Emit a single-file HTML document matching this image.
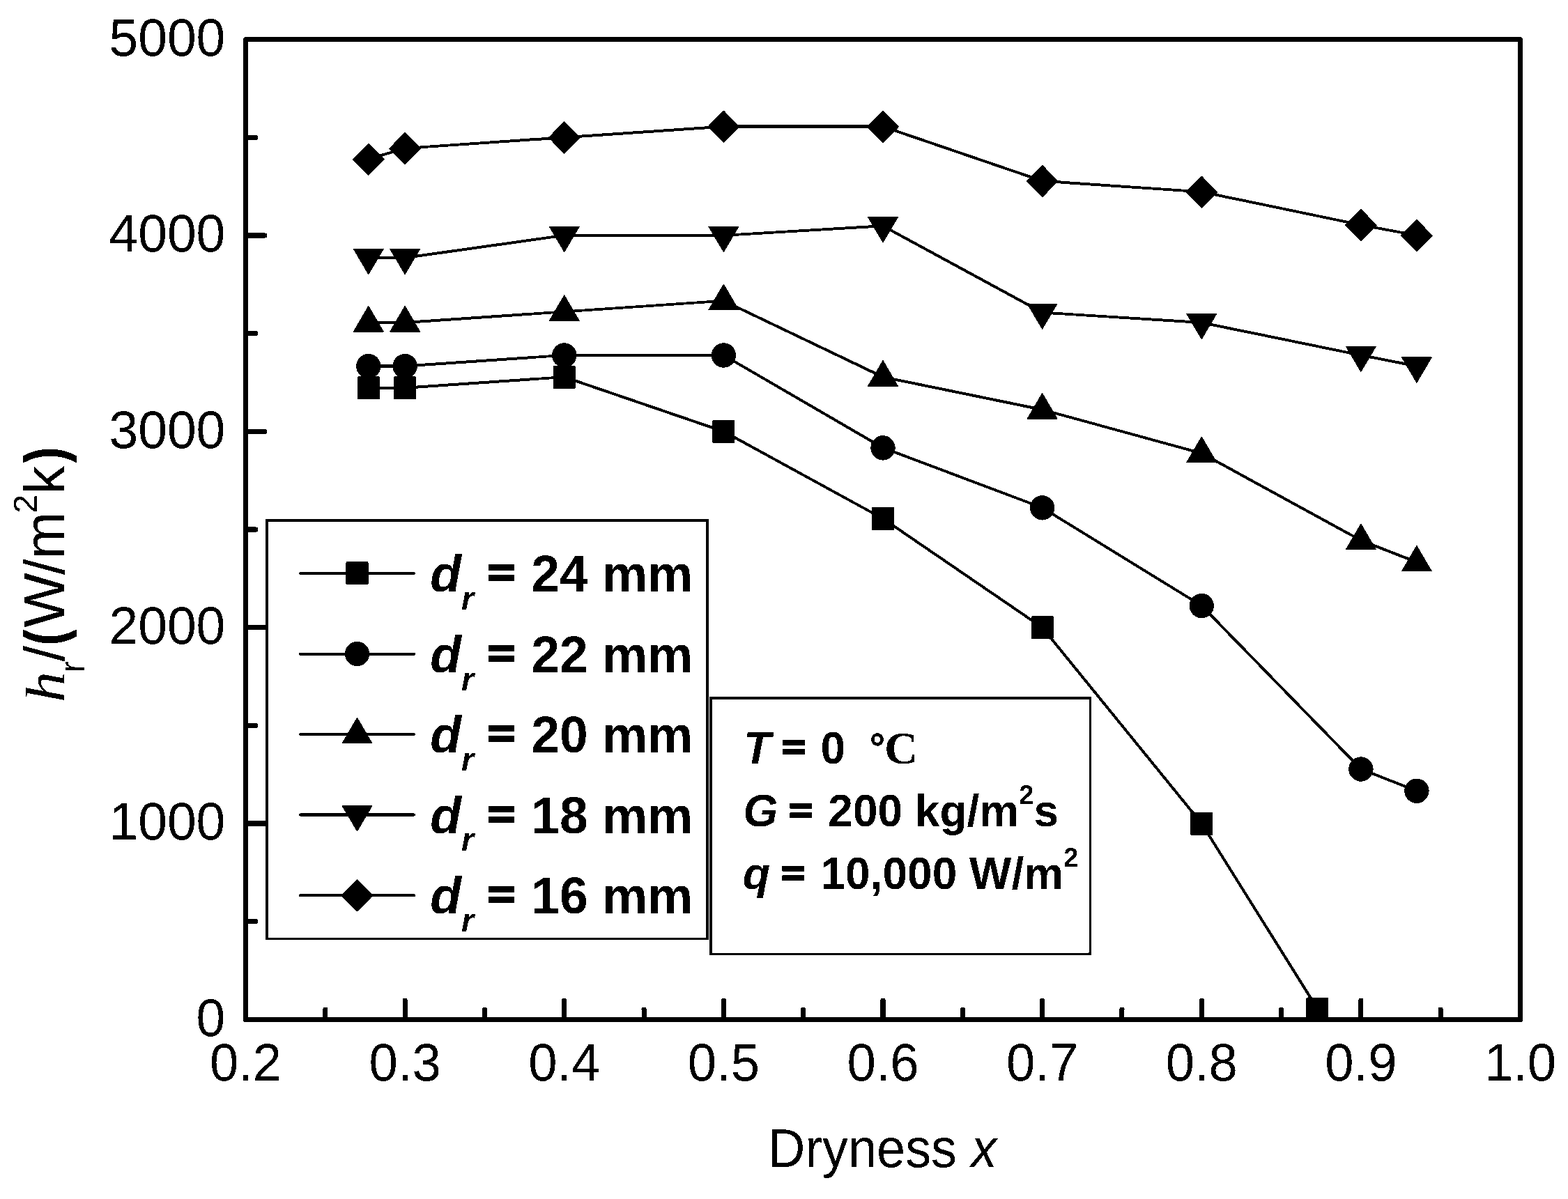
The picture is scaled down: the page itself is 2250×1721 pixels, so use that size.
<!DOCTYPE html>
<html lang="en"><head><meta charset="utf-8"><title>Heat transfer coefficient vs dryness</title>
<style>
html,body{margin:0;padding:0;background:#fff;}
body{width:2250px;height:1721px;}
svg{display:block;}
text{font-family:"Liberation Sans",sans-serif;fill:#000;}
.tk{font-size:75px;}
.lg{font-size:73.2px;font-weight:bold;}
.an{font-size:64px;font-weight:bold;}
.se{font-family:"Liberation Serif",serif;}
.i{font-style:italic;}
.b{font-weight:bold;}
.n{font-weight:normal;font-style:normal;}
</style></head><body>
<svg width="2250" height="1721" viewBox="0 0 2250 1721">
<defs><filter id="bin" filterUnits="userSpaceOnUse" x="0" y="0" width="2250" height="1721" color-interpolation-filters="sRGB"><feComponentTransfer><feFuncR type="discrete" tableValues="0 1"/><feFuncG type="discrete" tableValues="0 1"/><feFuncB type="discrete" tableValues="0 1"/></feComponentTransfer></filter></defs>
<g filter="url(#bin)">
<rect x="0" y="0" width="2250" height="1721" fill="#fff"/>
<g fill="none" stroke="#000" stroke-width="3.9" stroke-linejoin="round">
<polyline points="528.77,556.77 581.12,556.77 809.75,541.13 1038.38,619.30 1267.00,744.37 1495.62,900.70 1724.25,1182.10 1890.46,1447.87"/>
<polyline points="528.77,525.50 581.12,525.50 809.75,509.87 1038.38,509.87 1267.00,642.75 1495.62,728.73 1724.25,869.43 1952.87,1103.93 2032.89,1135.20"/>
<polyline points="528.77,462.97 581.12,462.97 809.75,447.33 1038.38,431.70 1267.00,541.13 1495.62,588.03 1724.25,650.57 1952.87,775.63 2032.89,806.90"/>
<polyline points="528.77,369.95 581.12,369.95 809.75,337.90 1038.38,337.90 1267.00,324.30 1495.62,448.58 1724.25,462.97 1952.87,509.87 2032.89,525.50"/>
<polyline points="528.77,228.47 581.12,212.83 809.75,197.20 1038.38,181.57 1267.00,181.57 1495.62,259.73 1724.25,275.37 1952.87,322.89 2032.89,337.90"/>
</g>
<g fill="#000" stroke="#000" stroke-width="0.8" stroke-linejoin="round">
<rect x="513.17" y="540.87" width="31.2" height="32.2" rx="0.8"/>
<rect x="565.52" y="540.87" width="31.2" height="32.2" rx="0.8"/>
<rect x="794.15" y="525.23" width="31.2" height="32.2" rx="0.8"/>
<rect x="1022.77" y="603.40" width="31.2" height="32.2" rx="0.8"/>
<rect x="1251.40" y="728.47" width="31.2" height="32.2" rx="0.8"/>
<rect x="1480.02" y="884.80" width="31.2" height="32.2" rx="0.8"/>
<rect x="1708.65" y="1166.20" width="31.2" height="32.2" rx="0.8"/>
<rect x="1874.86" y="1431.97" width="31.2" height="32.2" rx="0.8"/>
<circle cx="528.77" cy="525.60" r="17.3"/>
<circle cx="581.12" cy="525.60" r="17.3"/>
<circle cx="809.75" cy="509.97" r="17.3"/>
<circle cx="1038.38" cy="509.97" r="17.3"/>
<circle cx="1267.00" cy="642.85" r="17.3"/>
<circle cx="1495.62" cy="728.83" r="17.3"/>
<circle cx="1724.25" cy="869.53" r="17.3"/>
<circle cx="1952.87" cy="1104.03" r="17.3"/>
<circle cx="2032.89" cy="1135.30" r="17.3"/>
<polygon points="528.77,439.07 550.47,476.17 507.07,476.17"/>
<polygon points="581.12,439.07 602.83,476.17 559.42,476.17"/>
<polygon points="809.75,423.43 831.45,460.53 788.05,460.53"/>
<polygon points="1038.38,407.80 1060.08,444.90 1016.67,444.90"/>
<polygon points="1267.00,517.23 1288.70,554.33 1245.30,554.33"/>
<polygon points="1495.62,564.13 1517.32,601.23 1473.92,601.23"/>
<polygon points="1724.25,626.67 1745.95,663.77 1702.55,663.77"/>
<polygon points="1952.87,751.73 1974.57,788.83 1931.17,788.83"/>
<polygon points="2032.89,783.00 2054.59,820.10 2011.19,820.10"/>
<polygon points="528.77,393.95 550.47,357.25 507.07,357.25"/>
<polygon points="581.12,393.95 602.83,357.25 559.42,357.25"/>
<polygon points="809.75,361.90 831.45,325.20 788.05,325.20"/>
<polygon points="1038.38,361.90 1060.08,325.20 1016.67,325.20"/>
<polygon points="1267.00,348.30 1288.70,311.60 1245.30,311.60"/>
<polygon points="1495.62,472.58 1517.32,435.88 1473.92,435.88"/>
<polygon points="1724.25,486.97 1745.95,450.27 1702.55,450.27"/>
<polygon points="1952.87,533.87 1974.57,497.17 1931.17,497.17"/>
<polygon points="2032.89,549.50 2054.59,512.80 2011.19,512.80"/>
<polygon points="528.77,205.77 551.47,228.77 528.77,251.77 506.07,228.77"/>
<polygon points="581.12,190.13 603.83,213.13 581.12,236.13 558.42,213.13"/>
<polygon points="809.75,174.50 832.45,197.50 809.75,220.50 787.05,197.50"/>
<polygon points="1038.38,158.87 1061.08,181.87 1038.38,204.87 1015.67,181.87"/>
<polygon points="1267.00,158.87 1289.70,181.87 1267.00,204.87 1244.30,181.87"/>
<polygon points="1495.62,237.03 1518.32,260.03 1495.62,283.03 1472.92,260.03"/>
<polygon points="1724.25,252.67 1746.95,275.67 1724.25,298.67 1701.55,275.67"/>
<polygon points="1952.87,300.19 1975.57,323.19 1952.87,346.19 1930.17,323.19"/>
<polygon points="2032.89,315.20 2055.59,338.20 2032.89,361.20 2010.19,338.20"/>
</g>
<g fill="#000" stroke="none">
<rect x="463.31" y="1446.00" width="7.0" height="17.5" rx="2.2"/>
<rect x="577.62" y="1433.00" width="7.0" height="30.5" rx="2.2"/>
<rect x="691.94" y="1446.00" width="7.0" height="17.5" rx="2.2"/>
<rect x="806.25" y="1433.00" width="7.0" height="30.5" rx="2.2"/>
<rect x="920.56" y="1446.00" width="7.0" height="17.5" rx="2.2"/>
<rect x="1034.88" y="1433.00" width="7.0" height="30.5" rx="2.2"/>
<rect x="1149.19" y="1446.00" width="7.0" height="17.5" rx="2.2"/>
<rect x="1263.50" y="1433.00" width="7.0" height="30.5" rx="2.2"/>
<rect x="1377.81" y="1446.00" width="7.0" height="17.5" rx="2.2"/>
<rect x="1492.12" y="1433.00" width="7.0" height="30.5" rx="2.2"/>
<rect x="1606.44" y="1446.00" width="7.0" height="17.5" rx="2.2"/>
<rect x="1720.75" y="1433.00" width="7.0" height="30.5" rx="2.2"/>
<rect x="1835.06" y="1446.00" width="7.0" height="17.5" rx="2.2"/>
<rect x="1949.38" y="1433.00" width="7.0" height="30.5" rx="2.2"/>
<rect x="2063.69" y="1446.00" width="7.0" height="17.5" rx="2.2"/>
<rect x="352.5" y="1319.30" width="17.5" height="7.0" rx="2.2"/>
<rect x="352.5" y="1178.60" width="30.5" height="7.0" rx="2.2"/>
<rect x="352.5" y="1037.90" width="17.5" height="7.0" rx="2.2"/>
<rect x="352.5" y="897.20" width="30.5" height="7.0" rx="2.2"/>
<rect x="352.5" y="756.50" width="17.5" height="7.0" rx="2.2"/>
<rect x="352.5" y="615.80" width="30.5" height="7.0" rx="2.2"/>
<rect x="352.5" y="475.10" width="17.5" height="7.0" rx="2.2"/>
<rect x="352.5" y="334.40" width="30.5" height="7.0" rx="2.2"/>
<rect x="352.5" y="193.70" width="17.5" height="7.0" rx="2.2"/>
</g>
<rect x="352.5" y="56.5" width="1829.0" height="1407.0" fill="none" stroke="#000" stroke-width="7" stroke-linejoin="round"/>
<text class="tk" text-anchor="end" transform="translate(323.30,1486.80) scale(1.0,1.02)">0</text>
<text class="tk" text-anchor="end" transform="translate(323.30,1205.40) scale(1.0,1.02)">1000</text>
<text class="tk" text-anchor="end" transform="translate(323.30,924.00) scale(1.0,1.02)">2000</text>
<text class="tk" text-anchor="end" transform="translate(323.30,642.60) scale(1.0,1.02)">3000</text>
<text class="tk" text-anchor="end" transform="translate(323.30,361.20) scale(1.0,1.02)">4000</text>
<text class="tk" text-anchor="end" transform="translate(323.30,79.80) scale(1.0,1.02)">5000</text>
<text class="tk" text-anchor="middle" transform="translate(352.50,1551.20) scale(0.99,1.02)">0.2</text>
<text class="tk" text-anchor="middle" transform="translate(581.12,1551.20) scale(0.99,1.02)">0.3</text>
<text class="tk" text-anchor="middle" transform="translate(809.75,1551.20) scale(0.99,1.02)">0.4</text>
<text class="tk" text-anchor="middle" transform="translate(1038.38,1551.20) scale(0.99,1.02)">0.5</text>
<text class="tk" text-anchor="middle" transform="translate(1267.00,1551.20) scale(0.99,1.02)">0.6</text>
<text class="tk" text-anchor="middle" transform="translate(1495.62,1551.20) scale(0.99,1.02)">0.7</text>
<text class="tk" text-anchor="middle" transform="translate(1724.25,1551.20) scale(0.99,1.02)">0.8</text>
<text class="tk" text-anchor="middle" transform="translate(1952.88,1551.20) scale(0.99,1.02)">0.9</text>
<text class="tk" text-anchor="middle" transform="translate(2181.50,1551.20) scale(0.99,1.02)">1.0</text>
<text class="tk" text-anchor="middle" transform="translate(1266.30,1675.00) scale(0.985,1.03)">Dryness <tspan class="i">x</tspan></text>
<text class="se i" font-size="84" transform="translate(91.9,1008.3) rotate(-90) scale(1.06,0.955)">h</text>
<text transform="translate(91.9,1007.6) rotate(-90)" font-size="81"><tspan font-size="50" x="42.30" y="29.00">r</tspan><tspan font-size="81" x="58.20" y="0.00">/</tspan></text>
<text class="b" font-size="80" stroke="#000" stroke-width="1.6" stroke-linejoin="round" transform="translate(91.9,925.80) rotate(-90) scale(0.8,1)">(</text>
<text transform="translate(91.9,1007.6) rotate(-90)" font-size="81"><tspan font-size="83.4" x="106.80" y="0.00">W</tspan><tspan font-size="81" x="182.60" y="0.00">/</tspan><tspan font-size="81" x="205.40" y="0.00">m</tspan><tspan font-size="49" x="270.60" y="-38.80">2</tspan><tspan font-size="81" x="298.45" y="0.00">k</tspan></text>
<text class="b" font-size="80" stroke="#000" stroke-width="1.6" stroke-linejoin="round" transform="translate(91.9,663.60) rotate(-90) scale(0.8,1)">)</text>
<g fill="#fff" stroke="#000" stroke-width="3.6">
<rect x="382.7" y="746.8" width="632.3" height="600.6"/>
<rect x="1019.8" y="1001.7" width="544.6" height="367.7"/>
</g>
<line x1="431" y1="823.0" x2="594.2" y2="823.0" stroke="#000" stroke-width="4" stroke-linecap="round"/>
<g fill="#000" stroke="#000" stroke-width="0.8" stroke-linejoin="round"><rect x="496.90" y="806.80" width="31.2" height="32.2" rx="0.8"/></g>
<text class="lg i" x="617.3" y="849.0">d<tspan font-size="46" dy="25.8">r</tspan></text>
<text class="lg" transform="translate(707.42,821.10) scale(0.905,0.78)" x="-8.09" y="25.69" stroke="#000" stroke-width="3.97" stroke-linejoin="miter">=</text>
<text class="lg" x="762.2" y="849.0">24 mm</text>
<line x1="431" y1="938.6999999999999" x2="594.2" y2="938.6999999999999" stroke="#000" stroke-width="4" stroke-linecap="round"/>
<g fill="#000" stroke="#000" stroke-width="0.8" stroke-linejoin="round"><circle cx="512.50" cy="938.50" r="17.3"/></g>
<text class="lg i" x="617.3" y="964.7">d<tspan font-size="46" dy="25.8">r</tspan></text>
<text class="lg" transform="translate(707.42,936.80) scale(0.905,0.78)" x="-8.09" y="25.69" stroke="#000" stroke-width="3.97" stroke-linejoin="miter">=</text>
<text class="lg" x="762.2" y="964.7">22 mm</text>
<line x1="431" y1="1054.1" x2="594.2" y2="1054.1" stroke="#000" stroke-width="4" stroke-linecap="round"/>
<g fill="#000" stroke="#000" stroke-width="0.8" stroke-linejoin="round"><polygon points="512.50,1029.90 534.20,1067.00 490.80,1067.00"/></g>
<text class="lg i" x="617.3" y="1080.1">d<tspan font-size="46" dy="25.8">r</tspan></text>
<text class="lg" transform="translate(707.42,1052.20) scale(0.905,0.78)" x="-8.09" y="25.69" stroke="#000" stroke-width="3.97" stroke-linejoin="miter">=</text>
<text class="lg" x="762.2" y="1080.1">20 mm</text>
<line x1="431" y1="1169.6" x2="594.2" y2="1169.6" stroke="#000" stroke-width="4" stroke-linecap="round"/>
<g fill="#000" stroke="#000" stroke-width="0.8" stroke-linejoin="round"><polygon points="512.50,1193.30 534.20,1156.60 490.80,1156.60"/></g>
<text class="lg i" x="617.3" y="1195.6">d<tspan font-size="46" dy="25.8">r</tspan></text>
<text class="lg" transform="translate(707.42,1167.70) scale(0.905,0.78)" x="-8.09" y="25.69" stroke="#000" stroke-width="3.97" stroke-linejoin="miter">=</text>
<text class="lg" x="762.2" y="1195.6">18 mm</text>
<line x1="431" y1="1285.3" x2="594.2" y2="1285.3" stroke="#000" stroke-width="4" stroke-linecap="round"/>
<g fill="#000" stroke="#000" stroke-width="0.8" stroke-linejoin="round"><polygon points="512.50,1262.30 535.20,1285.30 512.50,1308.30 489.80,1285.30"/></g>
<text class="lg i" x="617.3" y="1311.3">d<tspan font-size="46" dy="25.8">r</tspan></text>
<text class="lg" transform="translate(707.42,1283.40) scale(0.905,0.78)" x="-8.09" y="25.69" stroke="#000" stroke-width="3.97" stroke-linejoin="miter">=</text>
<text class="lg" x="762.2" y="1311.3">16 mm</text>
<text class="an i" x="1067" y="1095.8">T</text>
<text class="an" transform="translate(1128.47,1072.50) scale(0.905,0.78)" x="-7.07" y="22.46" stroke="#000" stroke-width="3.47" stroke-linejoin="miter">=</text>
<text class="an" y="1095.8"><tspan x="1177.5">0</tspan><tspan class="se b" x="1247.9" dy="-5.9" font-size="55" stroke="#000" stroke-width="1.3">°</tspan><tspan class="se b" x="1268.9" dy="5.9" font-size="66.5">C</tspan></text>
<text class="an i" x="1066.5" y="1185.7">G</text>
<text class="an" transform="translate(1138.97,1163.00) scale(0.905,0.78)" x="-7.07" y="22.46" stroke="#000" stroke-width="3.47" stroke-linejoin="miter">=</text>
<text class="an" x="1188.3" y="1185.7">200 kg/m<tspan font-size="38" dy="-32">2</tspan><tspan dy="32">s</tspan></text>
<text class="an i" x="1066" y="1276">q</text>
<text class="an" transform="translate(1127.97,1253.20) scale(0.905,0.78)" x="-7.07" y="22.46" stroke="#000" stroke-width="3.47" stroke-linejoin="miter">=</text>
<text class="an" x="1177.5" y="1276">10,000 W/m<tspan font-size="38" dy="-32">2</tspan></text>
</g>
</svg>
</body></html>
